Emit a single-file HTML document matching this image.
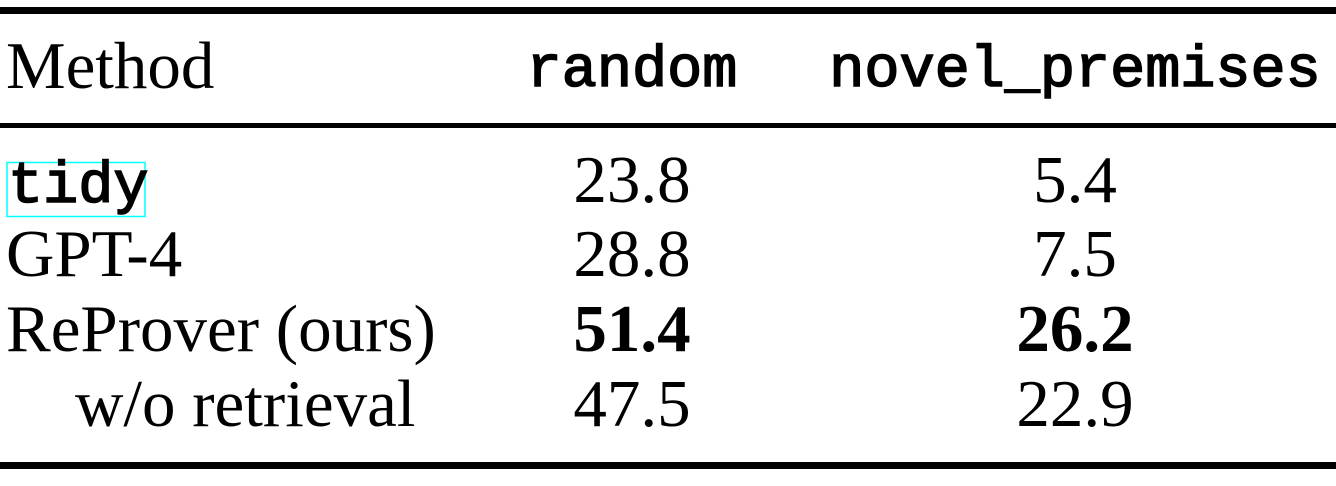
<!DOCTYPE html>
<html><head><meta charset="utf-8"><style>
html,body{margin:0;padding:0;background:#fff;width:1336px;height:486px;overflow:hidden}
svg{display:block}
.s{font-family:"Liberation Serif",serif;font-size:67px;fill:#000}
.m{font-family:"Liberation Mono",monospace;font-size:58.5px;fill:#000;stroke:#000;stroke-width:1.6px}
</style></head><body>
<svg width="1336" height="486">
<rect x="0" y="7" width="1336" height="7" fill="#000"/>
<rect x="0" y="123" width="1336" height="5" fill="#000"/>
<rect x="0" y="462" width="1336" height="7" fill="#000"/>
<text class="s" x="6" y="88">Method</text>
<text class="m" x="632" y="86" text-anchor="middle">random</text>
<text class="m" x="1075" y="86" text-anchor="middle">novel_premises</text>
<rect x="7" y="162.5" width="138" height="54" fill="none" stroke="#00ffff" stroke-width="1.5"/>
<text class="m" x="8" y="202">tidy</text>
<text class="s" x="632" y="202" text-anchor="middle">23.8</text>
<text class="s" x="1075" y="202" text-anchor="middle">5.4</text>
<text class="s" x="6" y="276">GPT-4</text>
<text class="s" x="632" y="276" text-anchor="middle">28.8</text>
<text class="s" x="1075" y="276" text-anchor="middle">7.5</text>
<text class="s" x="6" y="351">ReProver (ours)</text>
<text class="s" x="632" y="351" text-anchor="middle" font-weight="bold">51.4</text>
<text class="s" x="1075" y="351" text-anchor="middle" font-weight="bold">26.2</text>
<text class="s" x="75" y="426">w/o retrieval</text>
<text class="s" x="632" y="426" text-anchor="middle">47.5</text>
<text class="s" x="1075" y="426" text-anchor="middle">22.9</text>
</svg>
</body></html>
